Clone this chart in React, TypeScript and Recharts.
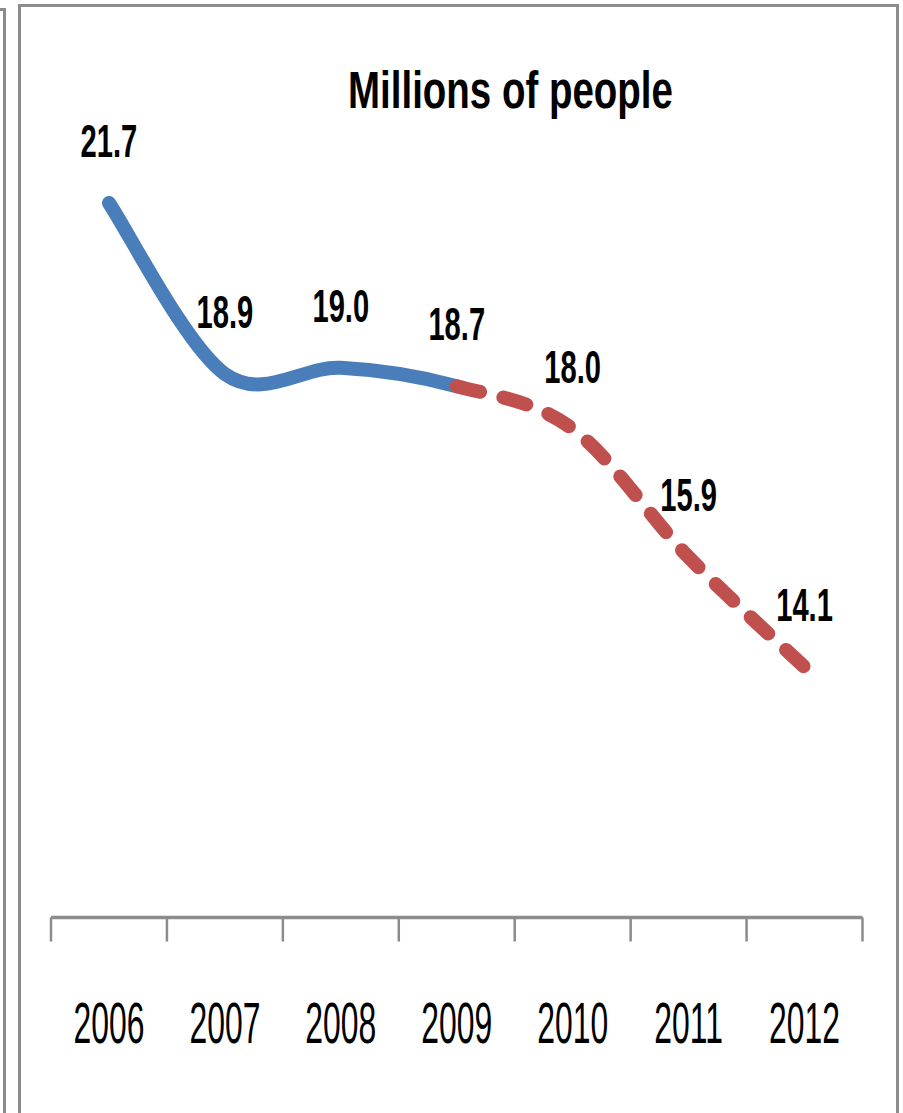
import React from "react";
import { LineChart, Line, XAxis, YAxis, LabelList } from "recharts";

const years = ["2006", "2007", "2008", "2009", "2010", "2011", "2012"];
const people = [21.7, 18.9, 19.0, 18.7, 18.0, 15.9, 14.1];
// last year with reported figures; the rest of the line is the projection
const lastActual = 3;
const yDomain = [10, 24];

const W = 903;
const H = 1113;
const margin = { top: 62.5, right: 40.5, bottom: 165.5, left: 51 };

const GRAY = "#8c8c8c";
const BLUE = "#4a7ebb";
const RED = "#c0504d";
const FONT = "'Liberation Sans', Arial, sans-serif";

const data = years.map((year, i) => ({ pos: i + 0.5, year, value: people[i] }));
// category boundaries on whole numbers, label slots half way between
const axisTicks = Array.from({ length: years.length * 2 + 1 }, (_, k) => k / 2);

// Excel-style smoothed line (Catmull-Rom bezier) that only strokes the
// segments between point indexes `from` and `to`, but still uses the
// neighbouring points for the tangents so both pieces join smoothly.
function smoothPart(from: number, to: number) {
  return (context: any) => {
    let pts: number[][] = [];
    return {
      areaStart() {},
      areaEnd() {},
      lineStart() {
        pts = [];
      },
      point(x: number, y: number) {
        pts.push([+x, +y]);
      },
      lineEnd() {
        const n = pts.length;
        const at = (i: number) => pts[Math.max(0, Math.min(n - 1, i))];
        const last = Math.min(to, n - 1);
        if (from >= last) return;
        context.moveTo(pts[from][0], pts[from][1]);
        for (let i = from; i < last; i++) {
          const p0 = at(i - 1);
          const p1 = at(i);
          const p2 = at(i + 1);
          const p3 = at(i + 2);
          context.bezierCurveTo(
            p1[0] + (p2[0] - p0[0]) / 6,
            p1[1] + (p2[1] - p0[1]) / 6,
            p2[0] - (p3[0] - p1[0]) / 6,
            p2[1] - (p3[1] - p1[1]) / 6,
            p2[0],
            p2[1]
          );
        }
      },
    };
  };
}

const actualCurve = smoothPart(0, lastActual);
const projectedCurve = smoothPart(lastActual, years.length - 1);

function YearTick(props: any) {
  const { x, y, payload } = props;
  const v = payload.value;
  if (Number.isInteger(v)) {
    return <line x1={x} x2={x} y1={y} y2={y + 24} stroke={GRAY} strokeWidth={2.5} />;
  }
  const label = years[Math.floor(v)];
  return (
    <text
      transform={`translate(${x},${y + 125}) scale(0.55,1)`}
      textAnchor="middle"
      fontFamily={FONT}
      fontSize={58}
      fill="#000"
    >
      {label}
    </text>
  );
}

function ValueLabel(props: any) {
  const { x, y, value } = props;
  return (
    <text
      transform={`translate(${x},${y - 46}) scale(0.62,1)`}
      textAnchor="middle"
      fontFamily={FONT}
      fontWeight="bold"
      fontSize={47}
      fill="#000"
    >
      {Number(value).toFixed(1)}
    </text>
  );
}

export default function App() {
  return (
    <div
      style={{
        position: "absolute",
        left: 0,
        top: 0,
        width: W,
        height: H,
        overflow: "hidden",
        background: "#fff",
      }}
    >
      {/* edge of the neighbouring panel */}
      <div
        style={{
          position: "absolute",
          left: -20,
          top: 8,
          width: 26,
          height: 1200,
          boxSizing: "border-box",
          borderTop: `3px solid ${GRAY}`,
          borderRight: `3px solid ${GRAY}`,
        }}
      />
      {/* chart frame */}
      <div
        style={{
          position: "absolute",
          left: 18,
          top: 4,
          width: 881,
          height: 1200,
          boxSizing: "border-box",
          borderTop: `3px solid ${GRAY}`,
          borderLeft: `3px solid ${GRAY}`,
          borderRight: `3px solid ${GRAY}`,
        }}
      />
      <div style={{ position: "absolute", left: 0, top: 0 }}>
        <LineChart width={W} height={H} data={data} margin={margin}>
          <XAxis
            dataKey="pos"
            type="number"
            domain={[0, years.length]}
            ticks={axisTicks}
            interval={0}
            height={30}
            tickSize={0}
            tickMargin={0}
            tickLine={false}
            axisLine={{ stroke: GRAY, strokeWidth: 3.5 }}
            tick={<YearTick />}
          />
          <YAxis hide domain={yDomain} />
          <Line
            dataKey="value"
            type={actualCurve as any}
            stroke={BLUE}
            strokeWidth={14}
            strokeLinecap="round"
            dot={false}
            activeDot={false}
            isAnimationActive={false}
          >
            <LabelList dataKey="value" content={<ValueLabel />} />
          </Line>
          <Line
            dataKey="value"
            type={projectedCurve as any}
            stroke={RED}
            strokeWidth={14}
            strokeLinecap="round"
            strokeDasharray="24 24"
            dot={false}
            activeDot={false}
            isAnimationActive={false}
          />
        </LineChart>
      </div>
      <svg
        width={W}
        height={150}
        style={{ position: "absolute", left: 0, top: 0, pointerEvents: "none" }}
      >
        <text
          transform="translate(510.5,108) scale(0.74,1)"
          textAnchor="middle"
          fontFamily={FONT}
          fontWeight="bold"
          fontSize={52}
          fill="#000"
        >
          Millions of people
        </text>
      </svg>
    </div>
  );
}
